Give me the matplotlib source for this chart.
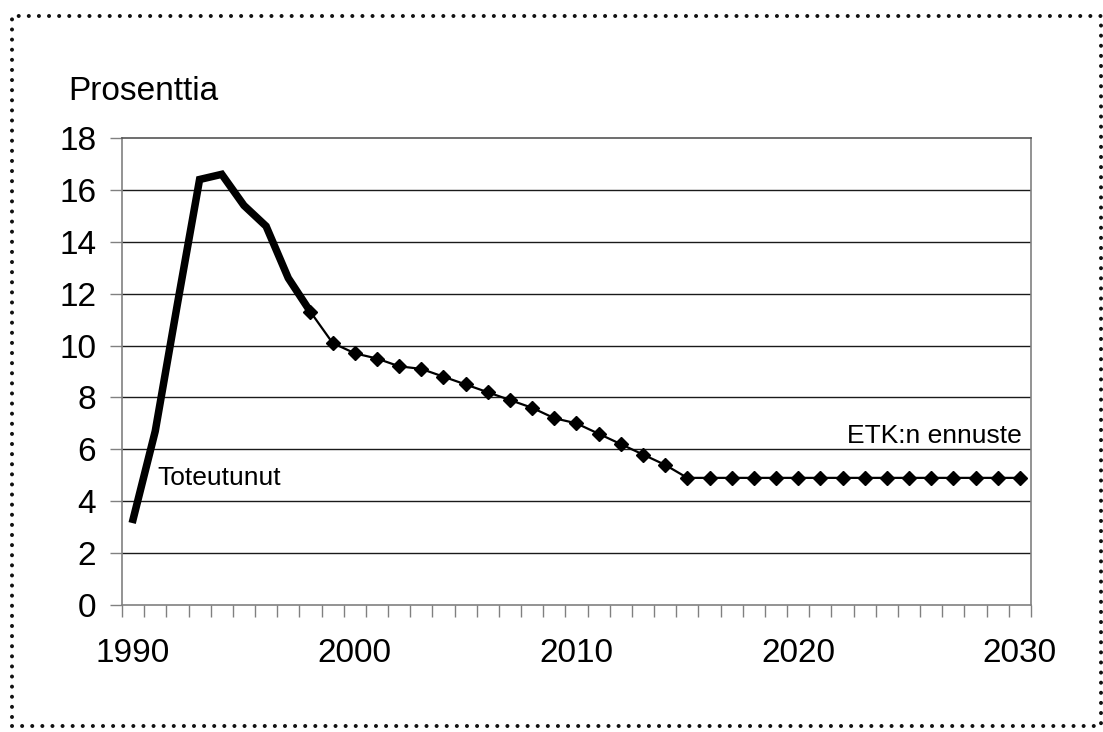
import matplotlib.pyplot as plt
from matplotlib.lines import Line2D
import numpy as np

plt.rcParams['font.family'] = ['Liberation Sans', 'DejaVu Sans']

# Toteutunut työttömyysaste 1990-1998
toteutunut_vuodet = list(range(1990, 1999))
toteutunut = [3.3, 6.7, 11.6, 16.4, 16.6, 15.4, 14.6, 12.6, 11.3]

# ETK:n ennuste 1998-2030
ennuste_vuodet = list(range(1998, 2031))
ennuste = [11.3, 10.1, 9.7, 9.5, 9.2, 9.1, 8.8, 8.5, 8.2, 7.9, 7.6,
           7.2, 7.0, 6.6, 6.2, 5.8, 5.4,
           4.9, 4.9, 4.9, 4.9, 4.9, 4.9, 4.9, 4.9,
           4.9, 4.9, 4.9, 4.9, 4.9, 4.9, 4.9, 4.9]

x_labels = [1990, 2000, 2010, 2020, 2030]
y_ticks = [0, 2, 4, 6, 8, 10, 12, 14, 16, 18]

fig = plt.figure(figsize=(11.03, 7.32), dpi=100)
ax = fig.add_axes([0.1106, 0.1735, 0.8241, 0.638])

# Pistekehys koko kuvan ympärille
x0, x1 = 12 / 1103, 1101 / 1103
y0, y1 = 1 - 726 / 732, 1 - 16 / 732
border = Line2D([x0, x1, x1, x0, x0], [y0, y0, y1, y1, y0],
                transform=fig.transFigure, color='#111111', lw=2.9,
                linestyle=(0, (0.01, 2.5)), dash_capstyle='round')
fig.add_artist(border)

ax.plot(toteutunut_vuodet, toteutunut, color='black', lw=5.4,
        solid_joinstyle='miter', zorder=4)
ax.plot(ennuste_vuodet, ennuste, color='black', lw=1.6, marker='D',
        markersize=7.2, zorder=5)

ax.set_xlim(1989.5, 2030.5)
ax.set_ylim(0, 18)

# Vaakasuorat apuviivat
for v in y_ticks[1:-1]:
    ax.axhline(v, color='#1a1a1a', lw=1.0, zorder=1)

for s in ax.spines.values():
    s.set_color('#808080')
    s.set_linewidth(1.2)
ax.spines['top'].set_color('#555555')

ax.set_yticks(y_ticks)
ax.set_xticks(x_labels)
ax.set_xticks(np.arange(1989.5, 2031, 1), minor=True)
ax.tick_params(axis='y', which='major', direction='out', length=8.5,
               width=1.0, color='#808080', pad=10, labelsize=24)
ax.tick_params(axis='x', which='major', length=0, pad=24, labelsize=24)
ax.tick_params(axis='x', which='minor', direction='out', length=8.5,
               width=1.0, color='#808080')

fig.text(68 / 1103, 1 - 100 / 732, 'Prosenttia', fontsize=24,
         ha='left', va='baseline')
ax.text(1991.1, 4.63, 'Toteutunut', fontsize=19, ha='left', va='baseline')
ax.text(2030.1, 6.25, 'ETK:n ennuste', fontsize=19, ha='right',
        va='baseline')

fig.savefig('out.png', dpi=100)
